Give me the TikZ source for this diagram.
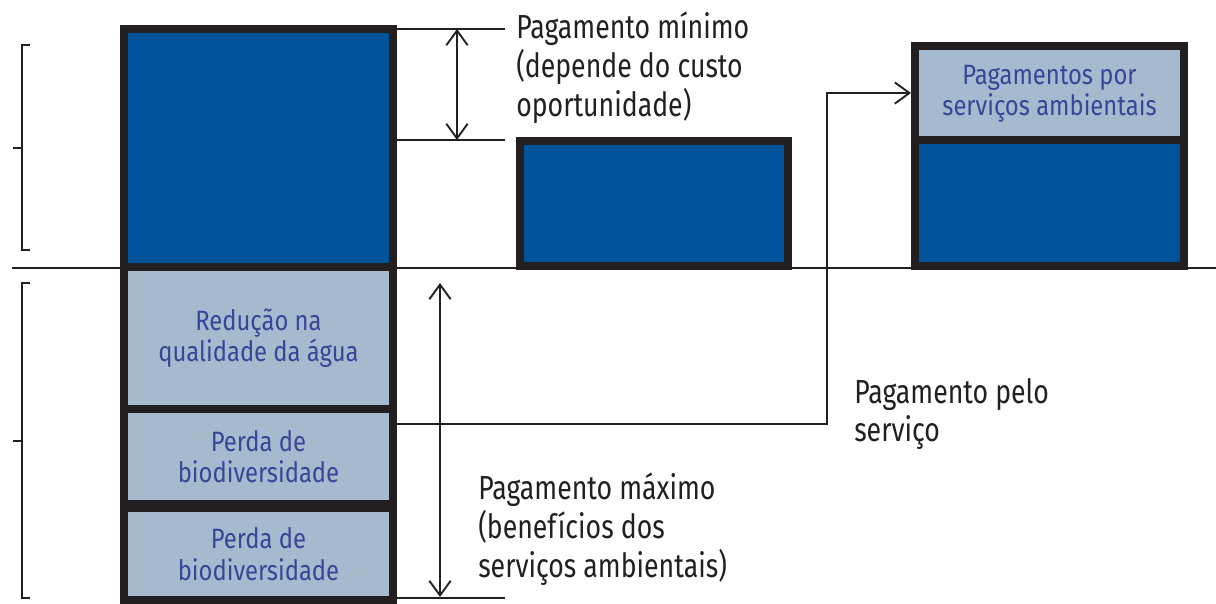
\documentclass[tikz,border=0pt]{standalone}
\usepackage{fontspec}
\setmainfont[FakeStretch=0.80]{Fira Sans}
\newfontfamily\boxfont[FakeStretch=0.85]{Fira Sans}
\usetikzlibrary{arrows.meta,calc}
\definecolor{dblue}{RGB}{0,82,155}
\definecolor{lblue}{RGB}{165,185,207}
\definecolor{bord}{RGB}{35,31,32}
\definecolor{ltext}{RGB}{55,70,150}
\begin{document}
\begin{tikzpicture}[x=0.75pt,y=-0.75pt,
  sect/.style={draw=bord,line width=6pt,inner sep=0pt,anchor=north west},
  dk/.style={sect,fill=dblue},
  lt/.style={sect,fill=lblue,text=ltext,font=\boxfont\fontsize{21}{23.5}\selectfont,align=center},
  thinline/.style={draw=bord,line width=1.4pt},
  tip/.tip={Straight Barb[length=11pt,width=16pt,line width=1.4pt]},
  arr/.style={thinline,-tip},
  dbl/.style={thinline,tip-tip},
  lbl/.style={text=bord,font=\fontsize{25}{29}\selectfont,align=left,inner sep=0pt,anchor=north west}
]
\useasboundingbox (0,0) rectangle (1216,603);
% baseline
\coordinate (bl0) at (12,268);
\coordinate (bl1) at (1216,268);
\draw[thinline] (bl0) -- (bl1);
% left column
\node[dk,minimum width=201.75pt,minimum height=178.5pt] (top) at (120,25) {};
\node[lt,minimum width=201.75pt,minimum height=106.5pt] (red) at (120,263) {Redução na\\qualidade da água};
\node[lt,minimum width=201.75pt,minimum height=71.25pt] (p1) at (120,405) {Perda de\\biodiversidade};
\node[lt,minimum width=201.75pt,minimum height=69pt] (p2) at (120,504) {Perda de\\biodiversidade};
% middle box
\node[dk,minimum width=201pt,minimum height=93.75pt] (mid) at (516,137) {};
% right box
\node[dk,minimum width=201.75pt,minimum height=94.5pt] (rd) at (911,136) {};
\node[lt,minimum width=201.75pt,minimum height=70.5pt,text depth=4pt] (ps) at (911,42) {Pagamentos por\\serviços ambientais};
% helper lines and arrows (top)
\coordinate (t1) at (505,29);
\coordinate (t2) at (505,140);
\draw[thinline] (top.east |- t1) -- (t1);
\draw[thinline] (top.east |- t2) -- (t2);
\coordinate (m1) at (457,29);
\coordinate (m2) at (457,140);
\draw[dbl] (m1) -- (m2);
% bottom
\coordinate (b1) at (505,598);
\draw[thinline] (p2.east |- b1) -- (b1);
\coordinate (n1) at (440,283);
\coordinate (n2) at (440,597);
\draw[dbl] (n1) -- (n2);
% connector
\coordinate (ck) at (827,424);
\draw[arr] (p1.east |- ck) -- (ck) |- (ps.west);
% brackets
\draw[thinline] (30,45) -- (22,45) -- (22,250) -- (30,250);
\draw[thinline] (13,148) -- (22,148);
\draw[thinline] (30,283) -- (22,283) -- (22,598) -- (30,598);
\draw[thinline] (13,441) -- (22,441);
% labels
\node[lbl] (pmin) at (516,12) {Pagamento mínimo\\(depende do custo\\oportunidade)};
\node[lbl] (pmax) at (478,473) {Pagamento máximo\\(benefícios dos\\serviços ambientais)};
\node[lbl] (ppel) at (854,378) {Pagamento pelo\\serviço};
\end{tikzpicture}
\end{document}
